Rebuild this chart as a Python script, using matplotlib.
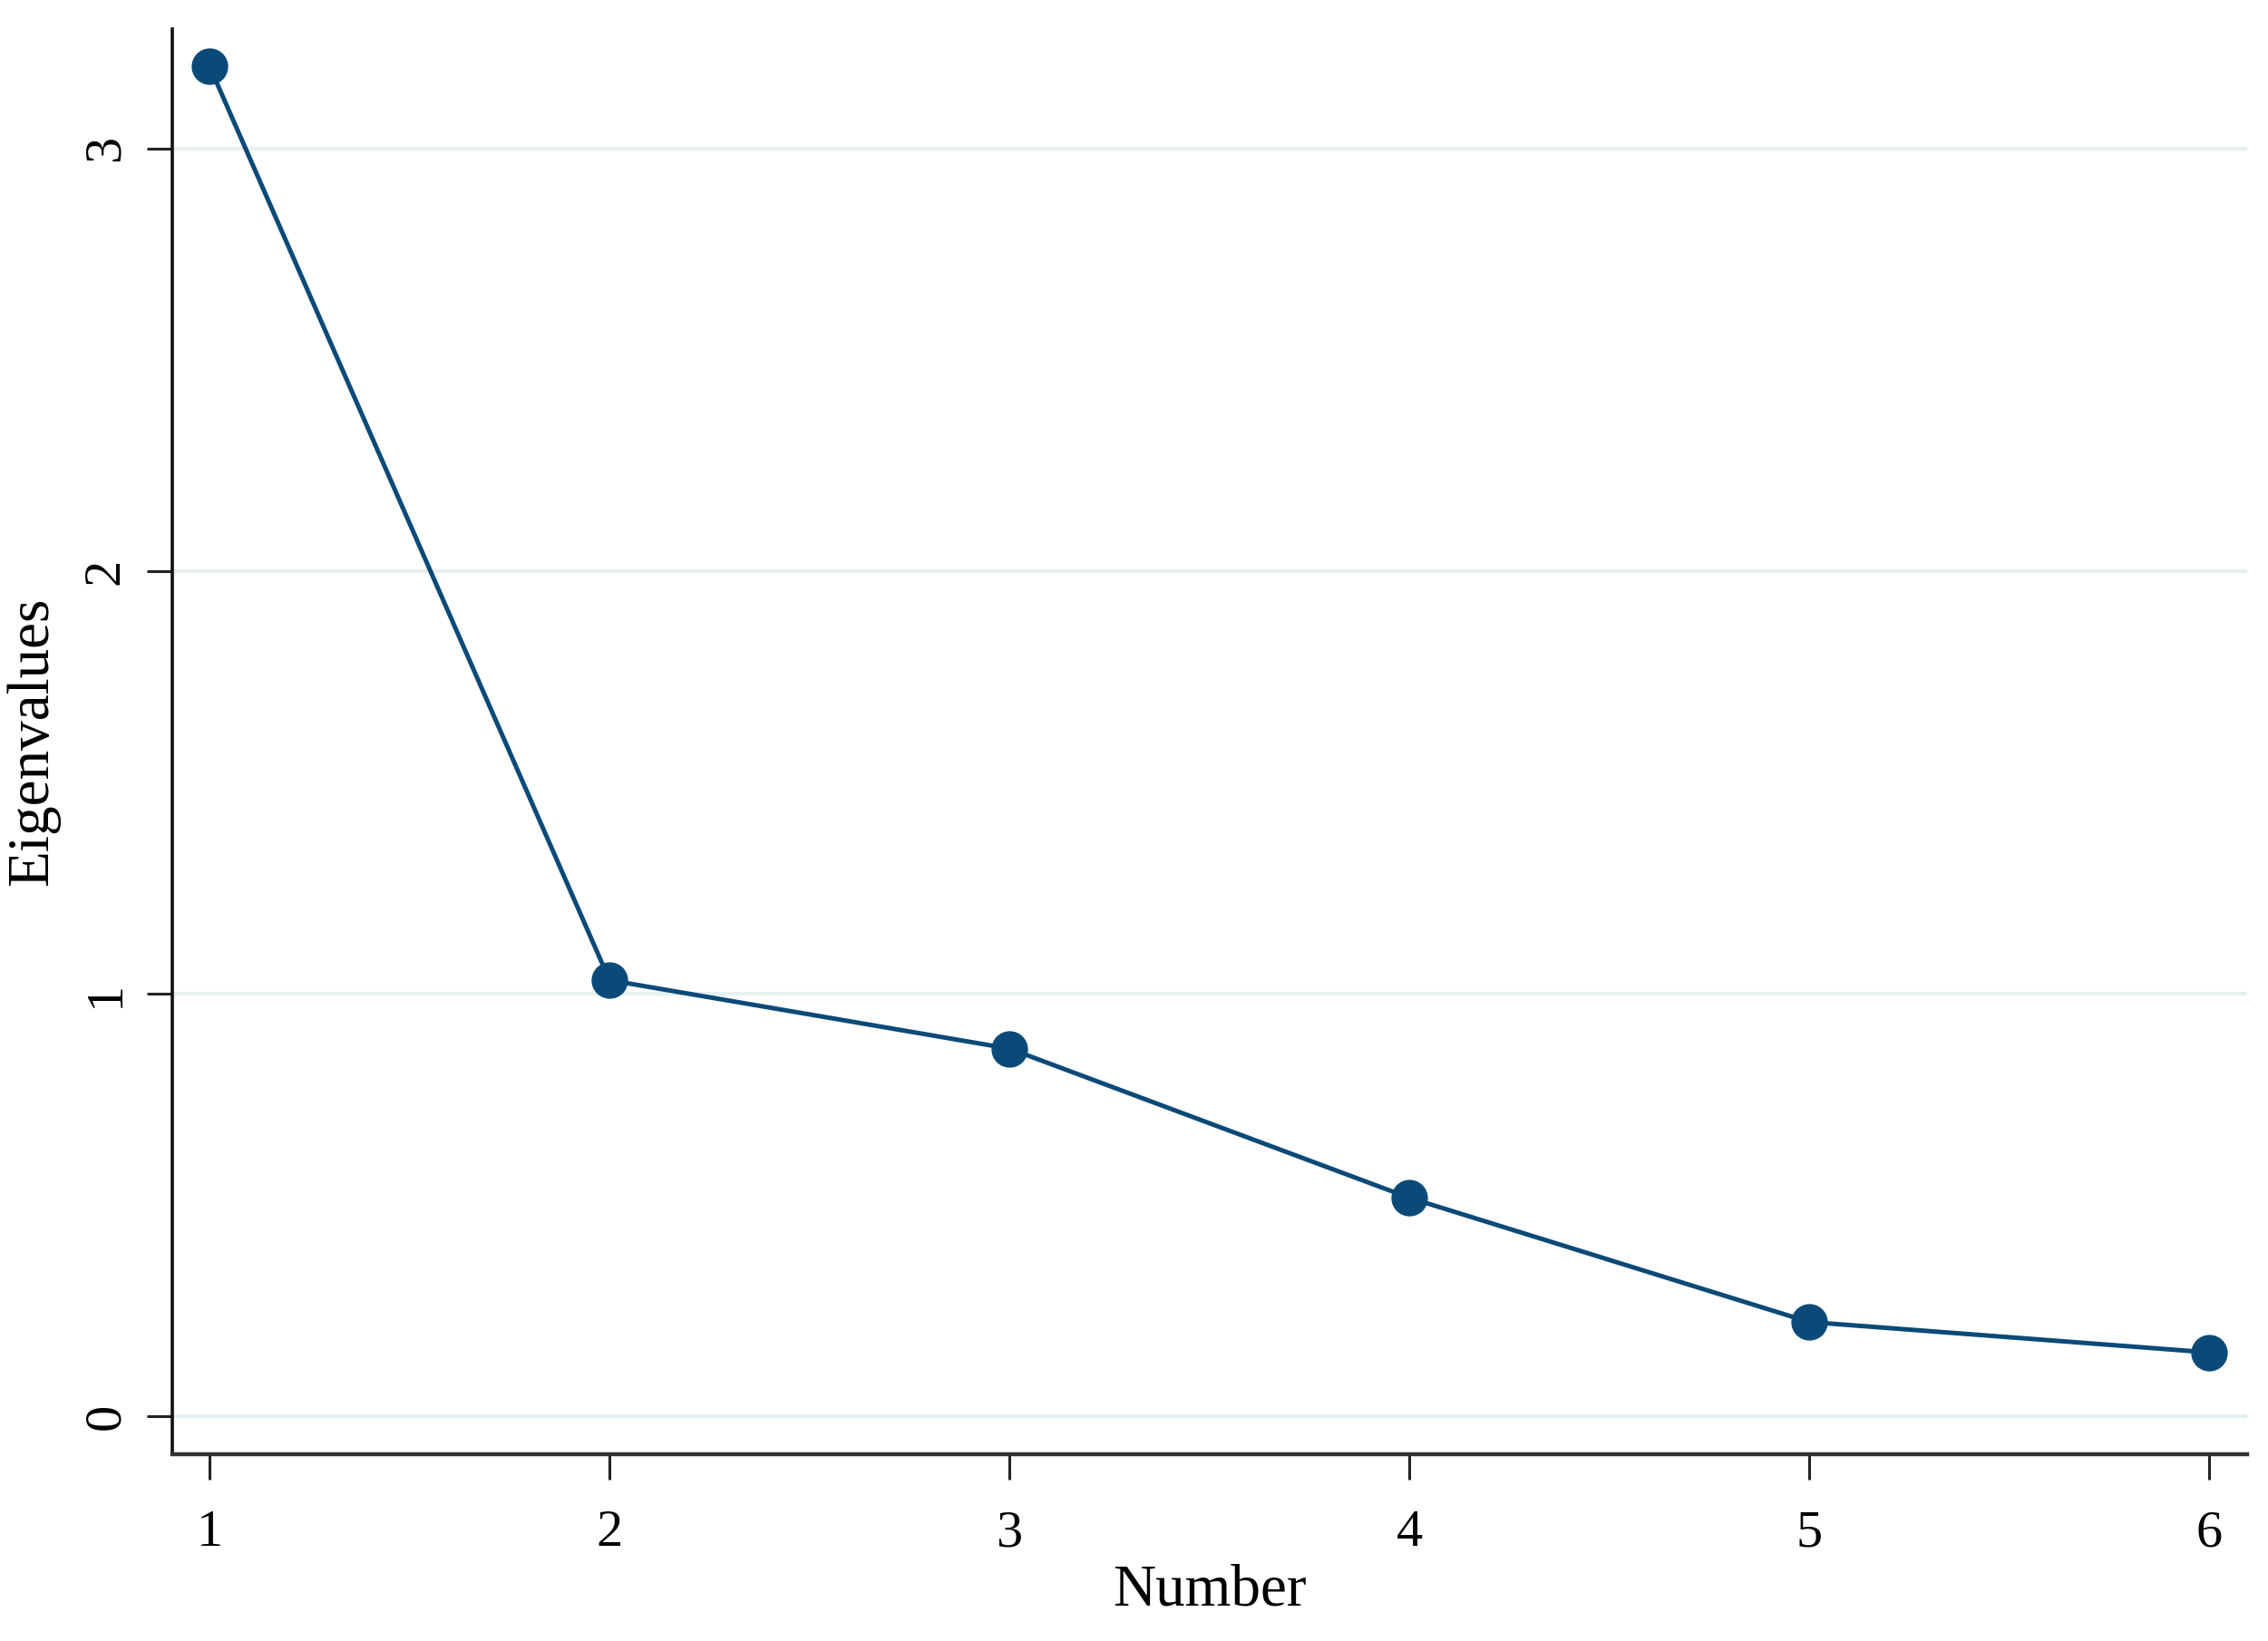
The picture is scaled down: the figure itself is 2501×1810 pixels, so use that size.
import matplotlib
matplotlib.use("Agg")
import matplotlib.pyplot as plt

# scree plot data
number = [1, 2, 3, 4, 5, 6]
eigenvalues = [3.195, 1.032, 0.870, 0.517, 0.223, 0.151]
y_ticks = [0, 1, 2, 3]

plt.rcParams['font.family'] = ['Liberation Serif', 'DejaVu Serif']

navy = "#0b4a78"

fig = plt.figure(figsize=(25.01, 18.10), dpi=100)
ax = fig.add_axes([0.076, 0.1138, 0.9148, 0.8685])

for yv in y_ticks:
    ax.axhline(yv, color="#e6f0f2", lw=3, zorder=0)

ax.plot(number, eigenvalues, color=navy, lw=3.6, marker="o",
        markersize=28, markerfacecolor=navy, markeredgecolor=navy, zorder=3)

ax.set_xlim(0.907, 6.095)
ax.set_ylim(-0.09, 3.283)
ax.set_xticks(number)
ax.set_yticks(y_ticks)

for s in ["top", "right"]:
    ax.spines[s].set_visible(False)
ax.spines["left"].set_linewidth(2.6)
ax.spines["bottom"].set_linewidth(3.2)
ax.spines["left"].set_color("#111111")
ax.spines["bottom"].set_color("#333333")

ax.tick_params(axis="both", length=20, width=2.2, color="#222222",
               labelsize=42, pad=14)
ax.tick_params(axis="x", pad=24)
for lab in ax.get_yticklabels():
    lab.set_rotation(90)
    lab.set_va("center")

ax.set_xlabel("Number", fontsize=47, labelpad=6)
ax.set_ylabel("Eigenvalues", fontsize=47, labelpad=18)

fig.savefig("out.png", dpi=100, facecolor="white")
